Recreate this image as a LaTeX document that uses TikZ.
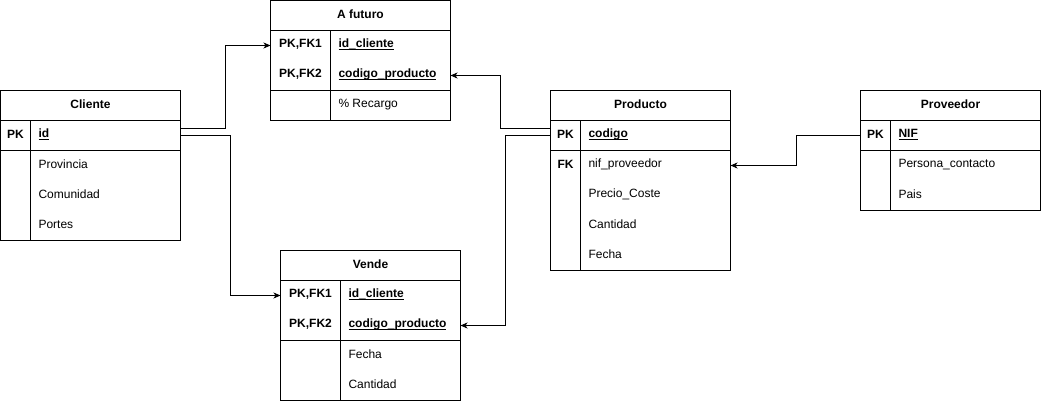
\documentclass[tikz,border=0pt]{standalone}
\usepackage{fontspec}
\setmainfont{Liberation Sans}
\usetikzlibrary{arrows.meta,positioning}
\newcommand{\tabfont}{\fontsize{12}{14}\selectfont}
\newcommand{\ulfield}[1]{\setbox0\hbox{#1}\rlap{\rule[-2pt]{\wd0}{0.9pt}}\box0}
\begin{document}
\begin{tikzpicture}[x=1pt, y=-1pt, line width=1pt,
	every node/.style={font=\tabfont, inner sep=0pt, outer sep=0pt},
	tabhead/.style={draw, minimum width=180pt, minimum height=30pt, text depth=2pt, font=\tabfont\bfseries},
	keybox/.style={draw, minimum width=180pt},
	keytxt/.style={font=\tabfont\bfseries, yshift=1pt},
	field/.style={anchor=west, yshift=1pt},
	keyfield/.style={field, font=\tabfont\bfseries},
	link/.style={-{Stealth[length=7pt, width=6pt, inset=2pt]}}]

\useasboundingbox (-0.5,-0.5) rectangle (1040.5,400.5);

% A futuro
\node[tabhead] (afuturo) at (360,15) {A futuro};
\node[keybox, minimum height=60pt, below=0pt of afuturo] (af-pk) {};
\node[keybox, minimum height=30pt, below=0pt of af-pk] (af-rest) {};
\draw ([xshift=60pt]af-pk.north west) -- ([xshift=60pt]af-rest.south west);
\node[keytxt] (af-k1) at ([xshift=30pt, yshift=15pt]af-pk.west) {PK,FK1};
\node[keytxt] (af-k2) at ([xshift=30pt, yshift=-15pt]af-pk.west) {PK,FK2};
\node[keyfield] (af-f1) at ([xshift=68pt, yshift=15pt]af-pk.west) {\ulfield{id\_cliente}};
\node[keyfield] (af-f2) at ([xshift=68pt, yshift=-15pt]af-pk.west) {\ulfield{codigo\_producto}};
\node[field] (af-f3) at ([xshift=68pt]af-rest.west) {\% Recargo};

% Cliente
\node[tabhead] (cliente) at (90,105) {Cliente};
\node[keybox, minimum height=30pt, below=0pt of cliente] (cli-pk) {};
\node[keybox, minimum height=90pt, below=0pt of cli-pk] (cli-rest) {};
\draw ([xshift=30pt]cli-pk.north west) -- ([xshift=30pt]cli-rest.south west);
\node[keytxt] (cli-k1) at ([xshift=15pt]cli-pk.west) {PK};
\node[keyfield] (cli-f1) at ([xshift=38pt]cli-pk.west) {\ulfield{id}};
\node[field] (cli-f2) at ([xshift=38pt, yshift=30pt]cli-rest.west) {Provincia};
\node[field] (cli-f3) at ([xshift=38pt]cli-rest.west) {Comunidad};
\node[field] (cli-f4) at ([xshift=38pt, yshift=-30pt]cli-rest.west) {Portes};

% Vende
\node[tabhead] (vende) at (370,265) {Vende};
\node[keybox, minimum height=60pt, below=0pt of vende] (ve-pk) {};
\node[keybox, minimum height=60pt, below=0pt of ve-pk] (ve-rest) {};
\draw ([xshift=60pt]ve-pk.north west) -- ([xshift=60pt]ve-rest.south west);
\node[keytxt] (ve-k1) at ([xshift=30pt, yshift=15pt]ve-pk.west) {PK,FK1};
\node[keytxt] (ve-k2) at ([xshift=30pt, yshift=-15pt]ve-pk.west) {PK,FK2};
\node[keyfield] (ve-f1) at ([xshift=68pt, yshift=15pt]ve-pk.west) {\ulfield{id\_cliente}};
\node[keyfield] (ve-f2) at ([xshift=68pt, yshift=-15pt]ve-pk.west) {\ulfield{codigo\_producto}};
\node[field] (ve-f3) at ([xshift=68pt, yshift=15pt]ve-rest.west) {Fecha};
\node[field] (ve-f4) at ([xshift=68pt, yshift=-15pt]ve-rest.west) {Cantidad};

% Producto
\node[tabhead] (producto) at (640,105) {Producto};
\node[keybox, minimum height=30pt, below=0pt of producto] (pro-pk) {};
\node[keybox, minimum height=120pt, below=0pt of pro-pk] (pro-rest) {};
\draw ([xshift=30pt]pro-pk.north west) -- ([xshift=30pt]pro-rest.south west);
\node[keytxt] (pro-k1) at ([xshift=15pt]pro-pk.west) {PK};
\node[keyfield] (pro-f1) at ([xshift=38pt]pro-pk.west) {\ulfield{codigo}};
\node[keytxt] (pro-k2) at ([xshift=15pt, yshift=45pt]pro-rest.west) {FK};
\node[field] (pro-f2) at ([xshift=38pt, yshift=45pt]pro-rest.west) {nif\_proveedor};
\node[field] (pro-f3) at ([xshift=38pt, yshift=15pt]pro-rest.west) {Precio\_Coste};
\node[field] (pro-f4) at ([xshift=38pt, yshift=-15pt]pro-rest.west) {Cantidad};
\node[field] (pro-f5) at ([xshift=38pt, yshift=-45pt]pro-rest.west) {Fecha};

% Proveedor
\node[tabhead] (proveedor) at (950,105) {Proveedor};
\node[keybox, minimum height=30pt, below=0pt of proveedor] (prv-pk) {};
\node[keybox, minimum height=60pt, below=0pt of prv-pk] (prv-rest) {};
\draw ([xshift=30pt]prv-pk.north west) -- ([xshift=30pt]prv-rest.south west);
\node[keytxt] (prv-k1) at ([xshift=15pt]prv-pk.west) {PK};
\node[keyfield] (prv-f1) at ([xshift=38pt]prv-pk.west) {\ulfield{NIF}};
\node[field] (prv-f2) at ([xshift=38pt, yshift=15pt]prv-rest.west) {Persona\_contacto};
\node[field] (prv-f3) at ([xshift=38pt, yshift=-15pt]prv-rest.west) {Pais};

% relaciones
\draw[link] ([yshift=7pt]cli-pk.east) -- ++(45,0) |- ([yshift=15pt]af-pk.west);
\draw[link] (cli-pk.east) -- ++(50,0) |- ([yshift=15pt]ve-pk.west);
\draw[link] ([yshift=7pt]pro-pk.west) -- ++(-50,0) |- ([yshift=-15pt]af-pk.east);
\draw[link] (pro-pk.west) -- ++(-45,0) |- ([yshift=-15pt]ve-pk.east);
\draw[link] (prv-pk.west) -- ++(-64,0) |- ([yshift=45pt]pro-rest.east);
\end{tikzpicture}
\end{document}
